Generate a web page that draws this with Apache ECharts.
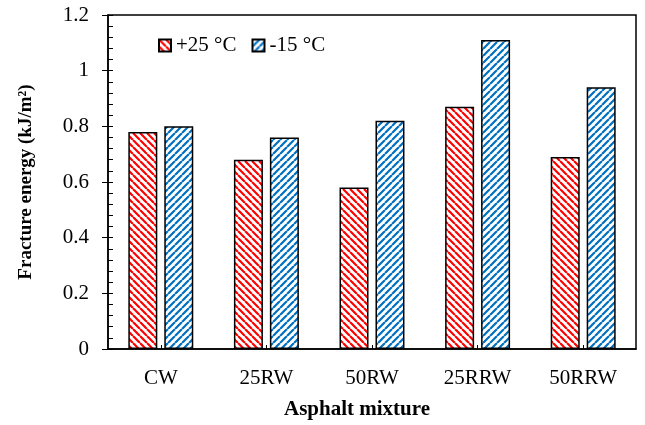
<!DOCTYPE html>
<html><head><meta charset="utf-8">
<script src="https://cdn.jsdelivr.net/npm/echarts@6/dist/echarts.min.js"></script>
<style>html,body{margin:0;padding:0;background:#fff}#c{width:645px;height:425px}</style>
</head><body><div id="c"></div>
<script>
const categories = ['CW', '25RW', '50RW', '25RRW', '50RRW'];
const warm = [0.78, 0.68, 0.58, 0.87, 0.69];
const cold = [0.80, 0.76, 0.82, 1.11, 0.94];
const seriesNames = ['+25 °C', '-15 °C'];

function stripes(color, dir) {
  const s = 7;
  const c = document.createElement('canvas');
  c.width = s; c.height = s;
  const g = c.getContext('2d');
  g.fillStyle = '#fff'; g.fillRect(0, 0, s, s);
  g.strokeStyle = color; g.lineWidth = 2.2;
  g.beginPath();
  for (let k = -1; k <= 1; k++) {
    if (dir === 'back') { g.moveTo(k * s, 0); g.lineTo(k * s + s, s); }
    else { g.moveTo(k * s, s); g.lineTo(k * s + s, 0); }
  }
  g.stroke();
  return { image: c, repeat: 'repeat' };
}

const font = '"Liberation Serif", "Times New Roman", serif';
const chart = echarts.init(document.getElementById('c'), null, { renderer: 'canvas' });
chart.setOption({
  animation: false,
  backgroundColor: '#fff',
  textStyle: { fontFamily: font },
  grid: { left: 108, right: 9, top: 15, bottom: 74, show: true, borderColor: '#000', borderWidth: 1.5, backgroundColor: 'transparent' },
  legend: {
    left: 153, top: 30, itemWidth: 12, itemHeight: 12, itemGap: 15,
    icon: 'rect',
    textStyle: { fontFamily: font, fontSize: 21, color: '#000' },
    data: seriesNames
  },
  xAxis: {
    type: 'category', data: categories,
    axisLine: { lineStyle: { color: '#000', width: 1.5 } },
    axisTick: { show: true, inside: true, alignWithLabel: true, length: 4, lineStyle: { color: '#000' } },
    axisLabel: { fontFamily: font, fontSize: 21, color: '#000', margin: 19 },
    name: 'Asphalt mixture', nameLocation: 'middle', nameGap: 50,
    nameTextStyle: { fontFamily: font, fontSize: 21, fontWeight: 'bold', color: '#000', padding: [0, 30, 0, 0] }
  },
  yAxis: [{
    type: 'value', min: 0, max: 1.2, interval: 0.2,
    splitLine: { show: false },
    axisLine: { show: true, lineStyle: { color: '#000', width: 1.5 } },
    axisTick: { show: true, length: 6, lineStyle: { color: '#000' } },
    axisLabel: { fontFamily: font, fontSize: 21, color: '#000', margin: 19,
      formatter: v => String(Math.round(v * 10) / 10) },
    name: 'Fracture energy (kJ/m²)', nameLocation: 'middle', nameGap: 72,
    nameTextStyle: { fontFamily: font, fontSize: 19, fontWeight: 'bold', color: '#000' }
  }, {
    type: 'value', position: 'left', min: 0, max: 1.2, interval: 0.04,
    splitLine: { show: false },
    axisLine: { show: false },
    axisTick: { show: true, inside: true, length: 5, lineStyle: { color: '#000' } },
    axisLabel: { show: false }
  }],
  series: [
    { name: seriesNames[0], type: 'bar', data: warm, barWidth: 29, barGap: '24%',
      itemStyle: { color: stripes('#ff0000', 'back'), borderColor: '#000', borderWidth: 1.5 } },
    { name: seriesNames[1], type: 'bar', data: cold, barWidth: 29,
      itemStyle: { color: stripes('#0070c0', 'fwd'), borderColor: '#000', borderWidth: 1.5 } }
  ]
});
</script></body></html>
